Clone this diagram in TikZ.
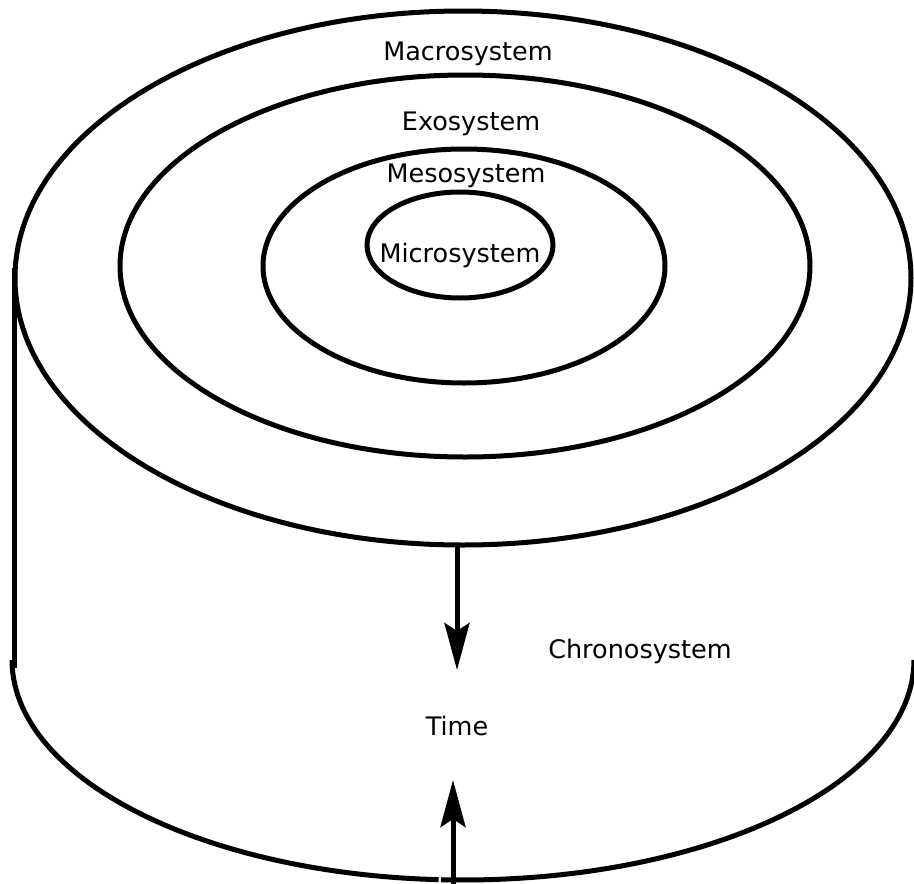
\documentclass[tikz,border=0pt]{standalone}
\usepackage{fontspec}
\setmainfont{DejaVu Sans}
\usetikzlibrary{arrows.meta}
\begin{document}
\begin{tikzpicture}[x=1pt,y=-1pt,
  ring/.style={line width=5pt},
  lbl/.style={anchor=base,inner sep=0pt,font=\fontsize{25.5}{30}\selectfont},
  timearrow/.style={line width=5pt,-{Stealth[length=47pt,width=25pt,inset=8pt]}}]
\useasboundingbox (0,0) rectangle (914,884);
% top rings
\draw[ring] (463,278) ellipse [x radius=448, y radius=267];
\draw[ring] (465,266) ellipse [x radius=345, y radius=191];
\draw[ring] (464,266) ellipse [x radius=201, y radius=117];
\draw[ring] (460,245) ellipse [x radius=93, y radius=53];
% cylinder side
\draw[ring] (14,268) -- (14,668);
\draw[ring,shift={(463,660)}] plot[domain=180:266.9,samples=80] ({451*cos(\x)},{-220*sin(\x)});
\draw[ring,shift={(463,660)}] plot[domain=267.2:360,samples=80] ({451*cos(\x)},{-220*sin(\x)});
% labels
\node[lbl] (macro) at (468,60) {Macrosystem};
\node[lbl] (exo) at (471,130) {Exosystem};
\node[lbl] (meso) at (466,182) {Mesosystem};
\node[lbl] (micro) at (460,262) {Microsystem};
\node[lbl] (chrono) at (640,658) {Chronosystem};
\node[lbl] (time) at (457,735) {Time};
% arrows
\coordinate (dtop) at (457,545);
\coordinate (dtip) at (457,670);
\coordinate (ubot) at (453,884);
\coordinate (utip) at (453,780);
\draw[timearrow] (dtop) -- (dtip);
\draw[timearrow] (ubot) -- (utip);
\end{tikzpicture}
\end{document}
